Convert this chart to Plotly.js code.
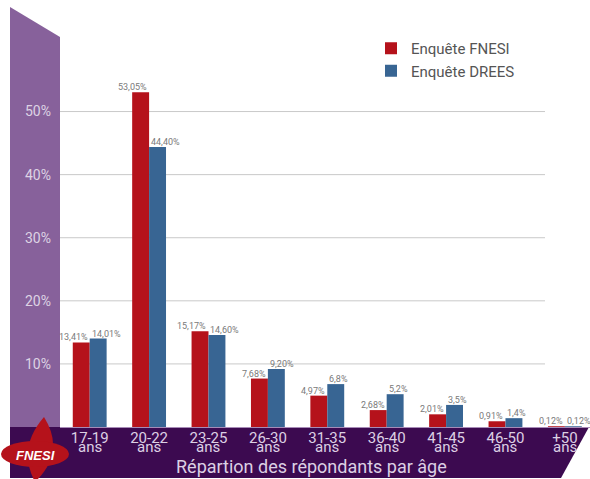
<!DOCTYPE html>
<html>
<head>
<meta charset="utf-8">
<script src="https://cdn.plot.ly/plotly-3.0.1.min.js"></script>
<style>html,body{margin:0;padding:0;background:#fff;}#chart{width:590px;height:479px;}</style>
</head>
<body>
<div id="chart"></div>
<script>
// ---- Data ----
var categories = ["17-19", "20-22", "23-25", "26-30", "31-35", "36-40", "41-45", "46-50", "+50"];
var fnesiValues = [13.41, 53.05, 15.17, 7.68, 4.97, 2.68, 2.01, 0.91, 0.12];
var dreesValues = [14.01, 44.40, 14.60, 9.20, 6.8, 5.2, 3.5, 1.4, 0.12];
var fnesiLabels = ["13,41%", "53,05%", "15,17%", "7,68%", "4,97%", "2,68%", "2,01%", "0,91%", "0,12%"];
var dreesLabels = ["14,01%", "44,40%", "14,60%", "9,20%", "6,8%", "5,2%", "3,5%", "1,4%", "0,12%"];
var yTickVals = [10, 20, 30, 40, 50];
var yTickText = ["10%", "20%", "30%", "40%", "50%"];
var seriesNames = ["Enquête FNESI", "Enquête DREES"];
var unitLabel = "ans";
var xTitle = "Répartion des répondants par âge";

// ---- Layout helpers (pixel -> paper) ----
var W = 590, H = 479, ML = 60, MR = 0, MT = 80, MB = 52;
var PW = W - ML - MR, PH = H - MT - MB;
function px(x) { return (x - ML) / PW; }
function py(y) { return (H - MB - y) / PH; }
function path(pts) {
  return pts.map(function (p, i) { return (i ? "L" : "M") + px(p[0]) + "," + py(p[1]); }).join(" ") + " Z";
}

var red = "#b5121b", blue = "#386593";

var traces = [
  { type: "bar", name: seriesNames[0], x: categories, y: fnesiValues, marker: { color: red }, hoverinfo: "skip" },
  { type: "bar", name: seriesNames[1], x: categories, y: dreesValues, marker: { color: blue }, hoverinfo: "skip" }
];

var shapes = [
  // light purple side band
  { type: "path", xref: "paper", yref: "paper", layer: "below", line: { width: 0 }, fillcolor: "#87619b",
    path: path([[10, 7], [60, 37], [60, 427], [10, 427]]) },
  // dark bottom band
  { type: "path", xref: "paper", yref: "paper", layer: "below", line: { width: 0 }, fillcolor: "#3c0a50",
    path: path([[10, 427], [589, 427], [561, 478], [10, 478]]) }
];
yTickVals.forEach(function (v) {
  shapes.push({ type: "line", xref: "paper", yref: "y", x0: 0, x1: px(545), y0: v, y1: v,
    layer: "below", line: { color: "#c9c9c9", width: 1 } });
});
// FNESI logo
shapes.push({ type: "path", xref: "paper", yref: "paper", layer: "above", line: { width: 0 }, fillcolor: red,
  path: "M" + px(44) + "," + py(417) + " Q" + px(66) + "," + py(452) + " " + px(35) + "," + py(482) +
        " Q" + px(17) + "," + py(448) + " " + px(44) + "," + py(417) + " Z" });
shapes.push({ type: "circle", xref: "paper", yref: "paper", layer: "above", line: { width: 0 }, fillcolor: red,
  x0: px(1), x1: px(69), y0: py(441), y1: py(467) });

var labelFont = { family: "Roboto", size: 9, color: "#7a7a7a" };
var annotations = [];
categories.forEach(function (c, i) {
  annotations.push({ x: i, y: fnesiValues[i], xref: "x", yref: "y", text: fnesiLabels[i], showarrow: false,
    xanchor: "right", yanchor: "bottom", yshift: -2, font: labelFont });
  annotations.push({ x: i, y: dreesValues[i], xref: "x", yref: "y", text: dreesLabels[i], showarrow: false,
    xanchor: "left", yanchor: "bottom", yshift: -2, font: labelFont });
  annotations.push({ x: i, y: 0, xref: "x", yref: "y", text: unitLabel, showarrow: false,
    yanchor: "middle", yshift: -20, font: { family: "Roboto", size: 15, color: "#dcd0e4" } });
});
annotations.push({ x: px(311), y: py(466), xref: "paper", yref: "paper", text: xTitle, showarrow: false,
  xanchor: "center", yanchor: "middle", font: { family: "Roboto", size: 18, color: "#dcd0e4" } });
annotations.push({ x: px(35), y: py(456), xref: "paper", yref: "paper", text: "<b><i>FNESI</i></b>", showarrow: false,
  xanchor: "center", yanchor: "middle", font: { family: "Liberation Sans", size: 13, color: "#ffffff" } });

var layout = {
  width: W, height: H,
  margin: { l: ML, r: MR, t: MT, b: MB, pad: 0 },
  paper_bgcolor: "#ffffff", plot_bgcolor: "rgba(0,0,0,0)",
  font: { family: "Roboto", color: "#555" },
  barmode: "group", bargap: 0.43, bargroupgap: 0,
  xaxis: {
    type: "category", range: [-0.5, 8.423], fixedrange: true,
    showgrid: false, zeroline: false, showline: true, linecolor: "#a78bb7", linewidth: 1,
    ticks: "", tickfont: { family: "Roboto", size: 15, color: "#dcd0e4" }, ticklabelstandoff: -3
  },
  yaxis: {
    range: [0, 55], fixedrange: true, showgrid: false, zeroline: false, showline: false,
    tickvals: yTickVals, ticktext: yTickText, ticks: "", ticklabelstandoff: 8,
    tickfont: { family: "Roboto", size: 14, color: "#ddd3e4" }
  },
  showlegend: true,
  legend: { x: px(371), y: py(32), xanchor: "left", yanchor: "top", bgcolor: "rgba(0,0,0,0)",
    font: { family: "Roboto", size: 15, color: "#555" }, tracegroupgap: 0 },
  shapes: shapes,
  annotations: annotations
};

Plotly.newPlot("chart", traces, layout, { displayModeBar: false, staticPlot: true });
</script>
</body>
</html>
